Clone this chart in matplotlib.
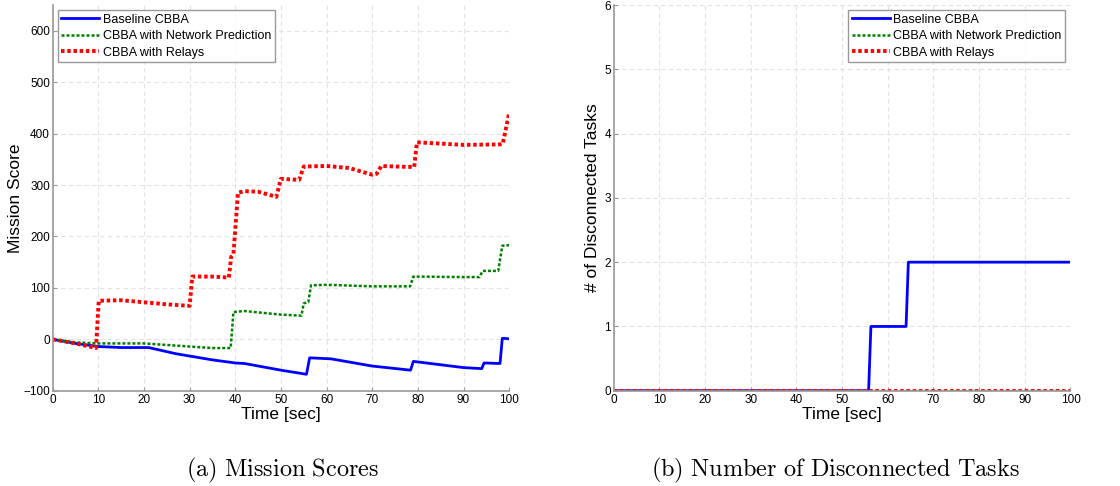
import matplotlib
matplotlib.use("Agg")
import matplotlib.pyplot as plt
import numpy as np

plt.rcParams['font.family'] = ['Liberation Sans', 'DejaVu Sans']
plt.rcParams['mathtext.fontset'] = 'cm'

labels = ["Baseline CBBA", "CBBA with Network Prediction", "CBBA with Relays"]

# (a) mission scores
base_t = [0, 5, 10, 15, 21, 27, 35, 40, 42, 50, 55.6, 56.3, 61, 70, 78.4, 79.0, 80, 90, 94, 94.5, 98, 98.5, 100]
base_s = [0, -8, -14, -16, -16, -28, -40, -46, -47, -60, -68, -36, -38, -52, -60, -43, -44, -55, -57, -46, -47, 2, 1]

net_t = [0, 5, 10, 20, 30, 35, 39, 39.6, 42, 50, 54.5, 55.0, 56.0, 56.6, 60, 70, 78.3, 79.0, 90, 93.5, 94.2, 97.6, 98.5, 100]
net_s = [0, -6, -8, -8, -14, -17, -17, 53, 55, 48, 46, 70, 72, 105, 106, 103, 103, 122, 121, 121, 133, 133, 182, 183]

rel_t = [0, 5, 9.5, 10.1, 15, 20, 25, 30, 30.6, 35, 38.6, 39.1, 39.6, 40.6, 42, 45, 49, 50.0, 54, 55.0, 60, 65, 70, 71, 72, 75, 79.2, 79.8, 82, 90, 98, 98.6, 100]
rel_s = [0, -8, -17, 75, 76, 72, 68, 65, 122, 122, 120, 160, 165, 285, 288, 287, 277, 312, 310, 336, 337, 333, 320, 322, 337, 336, 335, 383, 382, 378, 379, 380, 440]

# (b) disconnected tasks
disc_t = [0, 55.8, 56.3, 64.0, 64.5, 100]
disc_base = [0, 0, 1, 1, 2, 2]
disc_zero_t = [0, 100]
disc_net = [0, 0]
disc_rel = [0, 0]

fig = plt.figure(figsize=(11.2, 4.86), dpi=100)
ax1 = fig.add_axes([0.047, 0.196, 0.4076, 0.7937])
ax2 = fig.add_axes([0.548, 0.196, 0.4078, 0.7937])

styles = [dict(color='#0000ff', lw=2.0, ls='-'),
          dict(color='#008000', lw=1.8, ls=(0, (1.2, 0.8))),
          dict(color='#ff0000', lw=2.8, ls=(0, (0.9, 0.7)))]

ax1.plot(base_t, base_s, label=labels[0], **styles[0])
ax1.plot(net_t, net_s, label=labels[1], **styles[1])
ax1.plot(rel_t, rel_s, label=labels[2], **styles[2])
ax1.set_ylim(-100, 650)
ax1.set_yticks(np.arange(-100, 601, 100))
ax1.set_ylabel("Mission Score", fontsize=12.5, labelpad=0)

ax2.plot(disc_t, disc_base, label=labels[0], **styles[0])
ax2.plot(disc_zero_t, disc_net, label=labels[1], **styles[1])
ax2.plot(disc_zero_t, disc_rel, label=labels[2], **styles[2])
ax2.set_ylim(0, 6)
ax2.set_yticks(range(0, 7))
ax2.set_ylabel("# of Disconnected Tasks", fontsize=12.5, labelpad=3)

for ax in (ax1, ax2):
    ax.set_xlim(0, 100)
    ax.set_xticks(range(0, 101, 10))
    ax.set_xlabel("Time [sec]", fontsize=12.5, labelpad=1)
    ax.grid(True, color='#e2e2e2', ls=(0, (4, 3)), lw=0.8)
    ax.set_axisbelow(True)
    for s in ('top', 'right'):
        ax.spines[s].set_visible(False)
    for s in ('left', 'bottom'):
        ax.spines[s].set_color('#9a9a9a')
        ax.spines[s].set_linewidth(1.2)
    ax.tick_params(direction='in', length=3, width=0.8, color='#9a9a9a',
                   labelsize=8.5, pad=2)

leg_kw = dict(fontsize=9, frameon=True, fancybox=False, handlelength=3.0,
              borderpad=0.3, labelspacing=0.35, handletextpad=0.3, borderaxespad=0.4)
l1 = ax1.legend(loc='upper left', **leg_kw)
l2 = ax2.legend(loc='upper right', **leg_kw)
for lg in (l1, l2):
    lg.get_frame().set_edgecolor('#808080')
    lg.get_frame().set_linewidth(1.0)

fig.text(0.252, 0.031, r"$\mathrm{(a)\ Mission\ Scores}$", ha='center', va='center', fontsize=17.5)
fig.text(0.746, 0.031, r"$\mathrm{(b)\ Number\ of\ Disconnected\ Tasks}$", ha='center', va='center', fontsize=17.5)

fig.savefig("out.png", dpi=100)
